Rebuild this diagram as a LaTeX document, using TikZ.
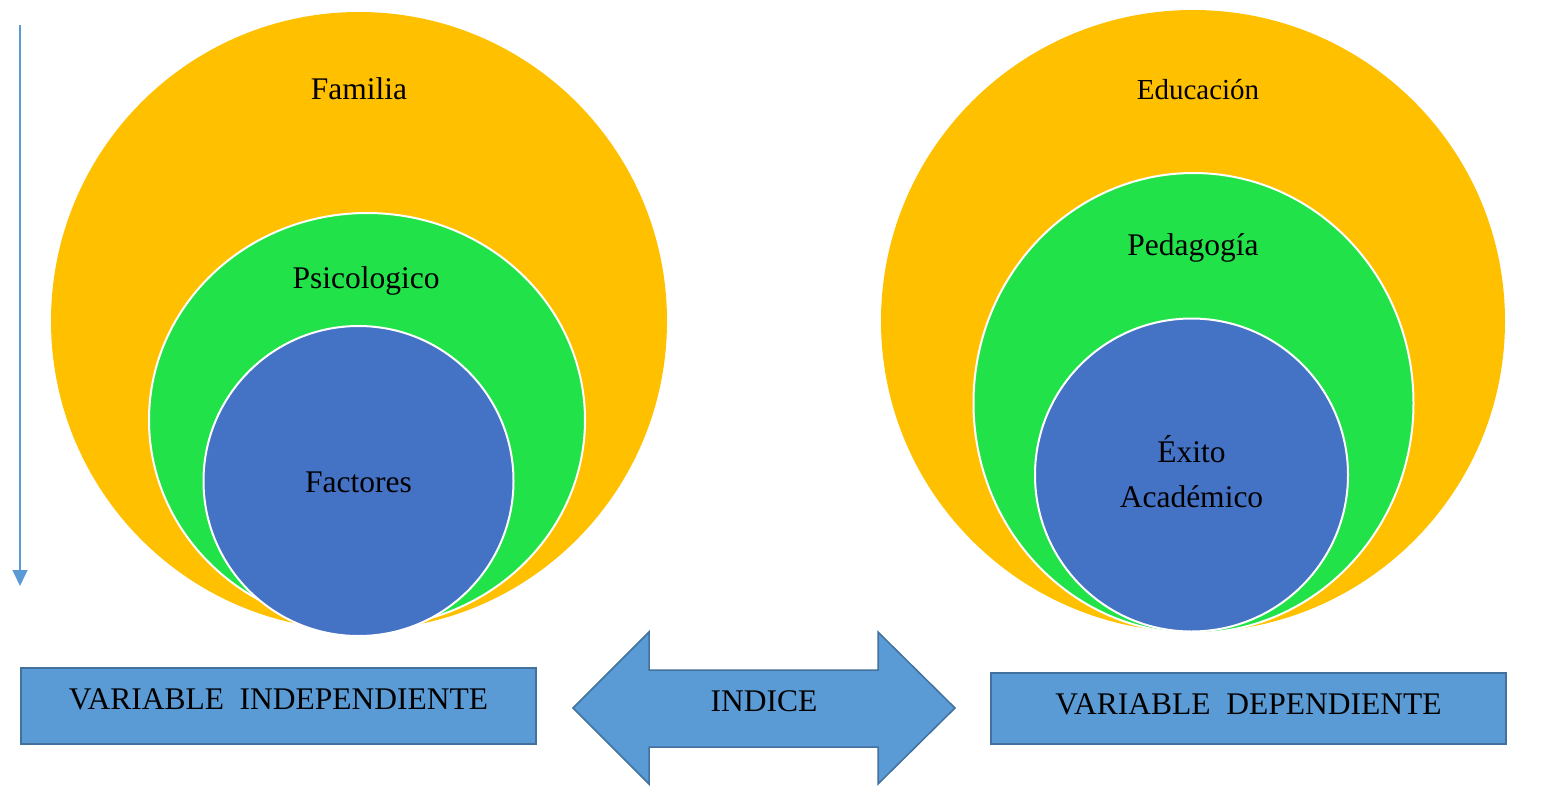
\documentclass[tikz,border=0pt]{standalone}
\usepackage{fontspec}
\setmainfont{Liberation Serif}
\usetikzlibrary{arrows.meta,calc}
\definecolor{orng}{HTML}{FFC000}
\definecolor{grn}{HTML}{22E24A}
\definecolor{blu}{HTML}{4472C4}
\definecolor{boxfill}{HTML}{5B9BD5}
\definecolor{boxline}{HTML}{41719C}
\begin{document}
\begin{tikzpicture}[x=1pt,y=-1pt,
  txt/.style={font=\fontsize{31.5}{38}\selectfont, anchor=base, inner sep=0pt},
  ring/.style={draw=white, line width=2pt},
  boxstyle/.style={draw=boxline, fill=boxfill, line width=2pt, inner sep=0pt, minimum width=515pt}]
\useasboundingbox (0,0) rectangle (1543,785);
% left group
\fill[orng] (359,321) ellipse [x radius=308pt, y radius=309pt];
\draw[ring, fill=grn] (367,420) ellipse [x radius=218pt, y radius=207pt];
\draw[ring, fill=blu] (358.5,481) circle [radius=155pt];
\node[txt] (familia) at (359,99) {Familia};
\node[txt] (psico) at (366,288) {Psicologico};
\node[txt] (fact) at (358.5,492) {Factores};
% right group
\fill[orng] (1193,321) ellipse [x radius=312pt, y radius=311pt];
\draw[ring, fill=grn] (1193.5,403) ellipse [x radius=220pt, y radius=230pt];
\draw[ring, fill=blu] (1191.5,475) circle [radius=156.5pt];
\node[txt, font=\fontsize{29}{35}\selectfont] (edu) at (1198,99) {Educación};
\node[txt] (peda) at (1193,255) {Pedagogía};
\node[txt] (exito) at (1191.5,462) {Éxito};
\node[txt] (acad) at (1191.5,507) {Académico};
% left vertical arrow
\coordinate (vtop) at (20,25);
\coordinate (vbot) at (20,586);
\draw[boxfill, line width=1.5pt, -{Triangle[length=16pt,width=15pt]}] (vtop) -- (vbot);
% boxes
\node[boxstyle, minimum height=76pt] (vi) at (278.5,706) {};
\node[txt] (vitxt) at (278.5,709) {VARIABLE\ \ INDEPENDIENTE};
\node[boxstyle, minimum height=71pt] (vd) at (1248.5,708.5) {};
\node[txt] (vdtxt) at (1248.5,714) {VARIABLE\ \ DEPENDIENTE};
% double arrow
\draw[boxline, line width=1.5pt, fill=boxfill, line join=miter]
  (573,708) -- (649,632) -- (649,670) -- (878,670) -- (878,632) -- (955,708)
  -- (878,784) -- (878,747) -- (649,747) -- (649,784) -- cycle;
\node[txt] (indice) at (764,711) {INDICE};
\end{tikzpicture}
\end{document}
